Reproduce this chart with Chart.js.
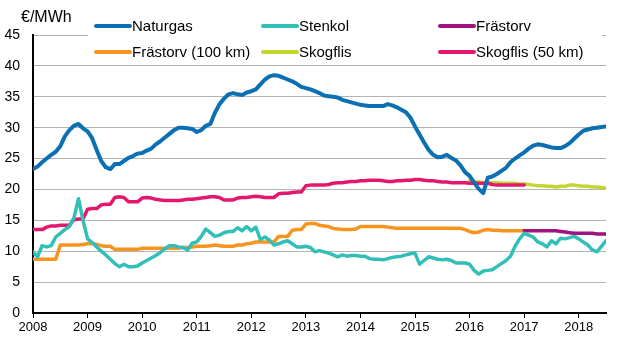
<!DOCTYPE html>
<html>
<head>
<meta charset="utf-8">
<script src="https://cdn.jsdelivr.net/npm/chart.js@4.4.0/dist/chart.umd.min.js"></script>
<style>
html, body { margin: 0; padding: 0; background: #fff; }
</style>
</head>
<body>
<canvas id="chart" width="628" height="363"></canvas>
<script>
// months counted from Jan 2008 (0) to Jul 2018 (126)
const years = ["2008", "2009", "2010", "2011", "2012", "2013", "2014", "2015", "2016", "2017", "2018"];
const yearTicks = [0, 12, 24, 36, 48, 60, 72, 84, 96, 108, 120];

const naturgas = [
    23.3, 23.7, 24.4, 25.0, 25.6, 26.1, 27.0, 28.6, 29.6, 30.3, 30.6, 29.9,
    29.4, 28.3, 26.4, 24.6, 23.6, 23.3, 24.1, 24.1, 24.6, 25.1, 25.4, 25.8,
    25.9, 26.3, 26.6, 27.3, 27.8, 28.4, 29.0, 29.6, 30.0, 30.0, 29.9, 29.8,
    29.3, 29.6, 30.3, 30.6, 32.4, 33.8, 34.7, 35.4, 35.6, 35.4, 35.3, 35.7,
    35.9, 36.2, 37.0, 37.8, 38.3, 38.5, 38.4, 38.1, 37.8, 37.5, 37.1, 36.6,
    36.4, 36.2, 35.9, 35.6, 35.2, 35.1, 35.0, 34.9, 34.5, 34.3, 34.1, 33.9,
    33.7, 33.6, 33.5, 33.5, 33.5, 33.5, 33.8, 33.6, 33.3, 32.9, 32.5, 31.6,
    30.2, 28.9, 27.6, 26.4, 25.6, 25.2, 25.3, 25.6, 25.1, 24.7, 23.9, 22.8,
    22.2, 21.1, 20.1, 19.4, 21.9, 22.1, 22.5, 23.0, 23.5, 24.4, 25.0, 25.5,
    26.0, 26.6, 27.1, 27.3, 27.2, 27.0, 26.8, 26.7, 26.7, 27.0, 27.5, 28.2,
    28.9, 29.5, 29.7, 29.9, 30.0, 30.1, 30.2
];

const stenkol = [
    9.9, 9.1, 10.9, 10.7, 10.9, 12.3, 12.9, 13.5, 14.0, 15.4, 18.5, 15.0,
    12.0, 11.4, 10.7, 10.0, 9.4, 8.7, 8.0, 7.5, 7.9, 7.5, 7.5, 7.6,
    8.1, 8.5, 8.9, 9.3, 9.8, 10.4, 10.9, 10.9, 10.7, 10.6, 10.2, 11.3,
    11.5, 12.4, 13.6, 13.0, 12.4, 12.6, 13.0, 13.2, 13.2, 13.8, 13.3, 14.0,
    13.3, 13.9, 11.9, 12.3, 11.8, 11.0, 11.2, 11.5, 11.7, 11.2, 10.7, 10.7,
    10.8, 10.6, 9.9, 10.1, 9.9, 9.7, 9.4, 9.1, 9.4, 9.2, 9.3, 9.3,
    9.2, 9.2, 8.8, 8.7, 8.7, 8.6, 8.8, 9.0, 9.1, 9.2, 9.4, 9.6,
    9.7, 7.9, 8.5, 9.1, 8.9, 8.7, 8.6, 8.7, 8.5, 8.1, 8.1, 8.1,
    7.9, 6.9, 6.3, 6.8, 6.9, 7.0, 7.5, 8.0, 8.5, 9.2, 10.8, 12.0,
    12.9, 12.6, 12.3, 11.5, 11.2, 10.7, 11.7, 11.2, 12.1, 12.0, 12.2, 12.4,
    12.0, 11.5, 11.0, 10.2, 9.9, 10.8, 11.7
];

// Frästorv starts Jan 2017
const frastorvStart = 108;
const frastorv = [
    13.3, 13.3, 13.3, 13.3, 13.3, 13.3, 13.3, 13.3, 13.2, 13.1, 13.0, 12.9,
    12.9, 12.9, 12.9, 12.9, 12.8, 12.8, 12.8
];

const frastorv100 = [
    8.7, 8.7, 8.7, 8.7, 8.7, 8.7, 11.0, 11.0, 11.0, 11.0, 11.0, 11.1,
    11.2, 11.3, 11.1, 10.9, 10.8, 10.8, 10.3, 10.3, 10.3, 10.3, 10.3, 10.3,
    10.5, 10.5, 10.5, 10.5, 10.5, 10.5, 10.5, 10.5, 10.5, 10.6, 10.6, 10.7,
    10.8, 10.8, 10.8, 10.9, 11.0, 10.9, 10.8, 10.8, 10.8, 11.0, 11.0, 11.2,
    11.3, 11.5, 11.5, 11.5, 11.5, 11.5, 12.4, 12.4, 12.4, 13.4, 13.5, 13.5,
    14.4, 14.5, 14.5, 14.2, 14.1, 14.0, 13.7, 13.6, 13.5, 13.5, 13.5, 13.6,
    14.0, 14.0, 14.0, 14.0, 14.0, 14.0, 13.9, 13.8, 13.7, 13.7, 13.7, 13.7,
    13.7, 13.7, 13.7, 13.7, 13.7, 13.7, 13.7, 13.7, 13.7, 13.7, 13.7, 13.5,
    13.2, 13.0, 13.1, 13.4, 13.5, 13.4, 13.4, 13.3, 13.3, 13.3, 13.3, 13.3,
    13.3
];

// Skogflis starts Jan 2016
const skogflisStart = 96;
const skogflis = [
    21.4, 21.3, 21.2, 21.1, 21.1, 21.1, 21.1, 21.0, 21.0, 21.0, 21.0, 20.9,
    20.9, 20.8, 20.7, 20.6, 20.6, 20.5, 20.5, 20.4, 20.5, 20.5, 20.7, 20.7,
    20.6, 20.5, 20.5, 20.4, 20.4, 20.3, 20.2
];

const skogflis50 = [
    13.5, 13.5, 13.5, 13.9, 14.1, 14.1, 14.2, 14.2, 14.2, 15.1, 15.2, 15.2,
    16.8, 16.9, 16.9, 17.5, 17.6, 17.6, 18.7, 18.8, 18.7, 18.0, 18.0, 18.0,
    18.6, 18.7, 18.6, 18.4, 18.3, 18.2, 18.2, 18.2, 18.2, 18.3, 18.4, 18.4,
    18.5, 18.6, 18.7, 18.8, 18.8, 18.7, 18.3, 18.3, 18.3, 18.6, 18.7, 18.7,
    18.8, 18.9, 18.8, 18.7, 18.7, 18.7, 19.3, 19.4, 19.4, 19.5, 19.6, 19.6,
    20.6, 20.7, 20.7, 20.7, 20.7, 20.8, 21.0, 21.1, 21.1, 21.2, 21.3, 21.3,
    21.4, 21.4, 21.5, 21.5, 21.5, 21.4, 21.3, 21.3, 21.4, 21.4, 21.5, 21.5,
    21.6, 21.6, 21.5, 21.4, 21.4, 21.3, 21.2, 21.2, 21.1, 21.1, 21.1, 21.1,
    21.0, 21.0, 21.0, 21.0, 21.0, 20.8, 20.7, 20.7, 20.7, 20.7, 20.7, 20.7,
    20.7
];

const font = "'Liberation Sans', Arial, sans-serif";
Chart.defaults.font.family = font;
Chart.defaults.color = "#000";

const pts = (vals, start) =>
    vals.map((v, i) => ({ x: start + i, y: v }));

const line = (label, data, color, extra) =>
    Object.assign({
        label: label,
        data: data,
        borderColor: color,
        backgroundColor: color,
        borderWidth: 3.5,
        pointRadius: 0,
        tension: 0,
        borderJoinStyle: "round",
        borderCapStyle: "round",
        fill: false
    }, extra || {});

// legend sits inside the plot, on a white box, 3 columns x 2 rows
const legendCols = [96, 263, 440];
const legendRows = [26, 52];

const overlay = {
    id: "overlay",
    afterDraw(chart) {
        const ctx = chart.ctx;
        ctx.save();
        ctx.fillStyle = "#fff";
        ctx.fillRect(88, 12, 514, 50);

        ctx.font = "15px " + font;
        ctx.textBaseline = "middle";
        ctx.textAlign = "left";
        chart.data.datasets.forEach((ds, i) => {
            const x = legendCols[i % 3];
            const y = legendRows[Math.floor(i / 3)];
            ctx.strokeStyle = ds.borderColor;
            ctx.lineWidth = 4;
            ctx.lineCap = "round";
            ctx.beginPath();
            ctx.moveTo(x, y);
            ctx.lineTo(x + 34, y);
            ctx.stroke();
            ctx.fillStyle = "#000";
            ctx.fillText(ds.label, x + 36, y + 1);
        });

        ctx.font = "16px " + font;
        ctx.fillText("€/MWh", 21, 18);
        ctx.restore();
    }
};

new Chart(document.getElementById("chart"), {
    type: "line",
    data: {
        datasets: [
            line("Naturgas", pts(naturgas, 0), "#0a70b3", { borderWidth: 4 }),
            line("Stenkol", pts(stenkol, 0), "#31bfb8"),
            line("Frästorv", pts(frastorv, frastorvStart), "#a0127f"),
            line("Frästorv (100 km)", pts(frastorv100, 0), "#f7941e"),
            line("Skogflis", pts(skogflis, skogflisStart), "#c2d62e", { order: 1 }),
            line("Skogflis (50 km)", pts(skogflis50, 0), "#e4176f")
        ]
    },
    options: {
        responsive: false,
        animation: false,
        devicePixelRatio: 1,
        layout: {
            padding: { top: 35, right: 22, left: 0, bottom: 0 }
        },
        plugins: {
            legend: { display: false },
            tooltip: { enabled: false }
        },
        scales: {
            x: {
                type: "linear",
                min: 0,
                max: 126,
                afterBuildTicks: s => {
                    s.ticks = yearTicks.map(v => ({ value: v }));
                },
                afterFit: s => {
                    s.height = 50;
                },
                ticks: {
                    autoSkip: false,
                    maxRotation: 0,
                    padding: 2,
                    font: { size: 13 },
                    callback: (v, i) => years[i]
                },
                grid: {
                    drawOnChartArea: false,
                    drawTicks: true,
                    tickLength: 5,
                    color: "#000",
                    lineWidth: 1
                },
                border: { color: "#000", width: 2 }
            },
            y: {
                min: 0,
                max: 45,
                afterFit: s => {
                    s.width = 33;
                },
                ticks: {
                    stepSize: 5,
                    padding: 13,
                    font: { size: 14 }
                },
                grid: {
                    color: "#b4b4b4",
                    lineWidth: 1,
                    drawTicks: false
                },
                border: { color: "#000", width: 2 }
            }
        }
    },
    plugins: [overlay]
});
</script>
</body>
</html>
